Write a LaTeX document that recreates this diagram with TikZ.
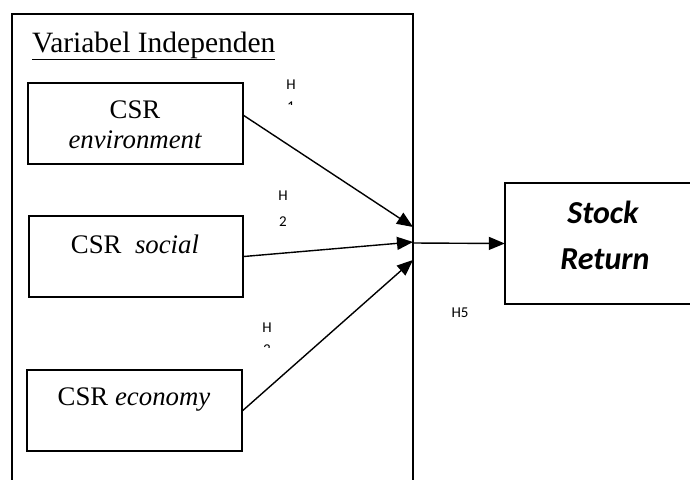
\documentclass[tikz,border=0pt]{standalone}
\usepackage{fontspec}
\setmainfont{Liberation Serif}
\newfontfamily\calib{Carlito}
\usetikzlibrary{arrows.meta,calc}
\begin{document}
\begin{tikzpicture}[x=1pt,y=-1pt,
  boxstyle/.style={draw,line width=1.6pt,inner sep=0pt},
  serif/.style={font=\fontsize{26.8}{30}\selectfont,inner sep=0pt},
  hlab/.style={font=\calib\fontsize{15}{18}\selectfont,inner sep=0pt},
  srfont/.style={font=\calib\bfseries\itshape\fontsize{32}{38}\selectfont,inner sep=0pt},
  arr/.style={line width=1.4pt,-{Triangle[length=16pt,width=13pt]}}]
\useasboundingbox (0,0) rectangle (690,479);
\fill[white] (0,0) rectangle (690,479);
% outer frame (open at bottom)
\coordinate (ob) at (12,484);
\coordinate (otl) at (12,14);
\coordinate (otr) at (413,14);
\coordinate (obr) at (413,484);
\draw[line width=1.6pt] (ob) -- (otl) -- (otr) -- (obr);
\node[font=\fontsize{29.5}{33}\selectfont,inner sep=0pt,anchor=base west] (title) at (32,52) {\underline{Variabel Independen}};
% boxes
\node[boxstyle,minimum width=215pt,minimum height=81pt] (b1) at (135.5,123.5) {};
\node[boxstyle,minimum width=214pt,minimum height=81pt] (b2) at (136,256.5) {};
\node[boxstyle,minimum width=215pt,minimum height=81pt] (b3) at (134.5,410.5) {};
\node[serif,anchor=base] (t1a) at (135,118) {CSR};
\node[serif,anchor=base] (t1b) at (135,148) {\itshape environment};
\node[serif,anchor=base] (t2) at (135,253) {CSR\ \ \textit{social}};
\node[serif,anchor=base] (t3) at (134,405) {CSR \textit{economy}};
% stock return box (open on the right)
\node[inner sep=0pt,minimum width=190pt,minimum height=121pt] (sr) at (600,243.5) {};
\draw[line width=1.6pt] (692,183) -- (505,183) -- (505,304) -- (692,304);
\node[srfont,anchor=base] (sr1) at (603,223) {Stock};
\node[srfont,anchor=base] (sr2) at (605,269) {Return};
% arrows
\coordinate (t1) at (413,227);
\coordinate (t2c) at (413,242);
\coordinate (t3c) at (413,260);
\coordinate (s1) at (243,115);
\draw[arr] (s1) -- (t1);
\draw[arr] (b2.east) -- (t2c);
\draw[arr] (b3.east) -- (t3c);
\coordinate (j) at (413,243);
\draw[arr] (j) -- (sr.west);
% hypothesis labels
\node[hlab,anchor=base] (h1) at (291,89) {H};
\begin{scope}
\clip (280,97) rectangle (300,104);
\node[hlab,anchor=base] (n1) at (291,111) {1};
\end{scope}
\node[hlab,anchor=base] (h2) at (283,200) {H};
\node[hlab,anchor=base] (n2) at (283,226) {2};
\node[hlab,anchor=base] (h3) at (267,332) {H};
\begin{scope}
\clip (255,340) rectangle (280,347);
\node[hlab,anchor=base] (n3) at (267,354) {3};
\end{scope}
\node[hlab,anchor=base] (h5) at (460,317) {H5};
\end{tikzpicture}
\end{document}
